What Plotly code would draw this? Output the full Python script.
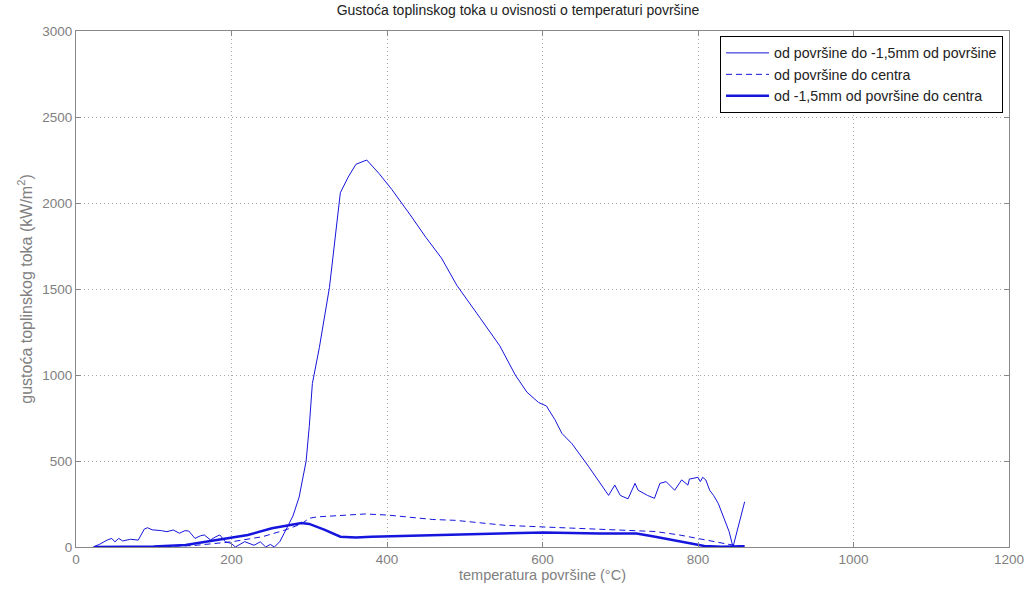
import plotly.graph_objects as go

# Series 1: od površine do -1,5mm od površine (thin solid)
x_thin = [22, 30, 40, 46, 50, 55, 60, 70, 80, 88, 92, 98, 110, 117, 125, 133, 140, 145, 153, 160,
          165, 173, 180, 185, 192, 200, 205, 212, 217, 229, 237, 244, 250, 255, 262, 270, 279, 287,
          296, 300, 304, 313, 326, 340, 350, 360, 374, 390, 406, 430, 450, 470, 490, 520, 545,
          565, 580, 595, 605, 616, 625, 638, 659, 685, 693, 700, 710, 719, 723, 735, 744, 751,
          759, 770, 779, 787, 789, 800, 803, 806, 810, 815, 820, 826, 834, 840, 845, 852, 860]
y_thin = [0, 15, 40, 50, 30, 50, 35, 45, 40, 105, 112, 100, 95, 89, 99, 80, 95, 93, 50, 65,
          70, 41, 60, 70, 31, 20, 0, 20, 31, 10, 30, 0, 15, 0, 30, 100, 180, 290,
          500, 700, 950, 1160, 1510, 2060, 2150, 2225, 2250, 2170, 2080, 1930, 1800, 1680, 1520, 1330, 1170,
          1000, 900, 840, 820, 740, 660, 600, 470, 300, 360, 300, 280, 370, 330, 300, 283, 370,
          380, 330, 390, 360, 395, 405, 380, 405, 390, 330, 300, 254, 157, 90, 0, 120, 263]

# Series 2: od površine do centra (dashed)
x_dash = [24, 100, 150, 200, 240, 270, 290, 300, 310, 340, 372, 400, 424, 459, 488, 538, 552,
          604, 663, 700, 745, 776, 808, 840, 856, 860]
y_dash = [0, 2, 8, 30, 60, 100, 135, 167, 175, 183, 192, 186, 174, 160, 155, 130, 126,
          116, 105, 95, 90, 70, 41, 15, 6, 5]

# Series 3: od -1,5mm od površine do centra (thick solid)
x_thick = [24, 100, 141, 181, 221, 252, 275, 290, 300, 320, 340, 360, 380, 459, 538, 602, 673,
           721, 745, 776, 808, 830, 860]
y_thick = [0, 3, 12, 41, 70, 109, 128, 140, 134, 100, 60, 55, 60, 70, 78, 85, 78,
           78, 60, 35, 6, 2, 5]

names = ["od površine do -1,5mm od površine", "od površine do centra",
         "od -1,5mm od površine do centra"]

blue = "#1515dd"
fig = go.Figure()
fig.add_trace(go.Scatter(x=x_thin, y=y_thin, mode="lines", name=names[0],
                         line=dict(color=blue, width=1)))
fig.add_trace(go.Scatter(x=x_dash, y=y_dash, mode="lines", name=names[1],
                         line=dict(color=blue, width=1, dash="6px,4px")))
fig.add_trace(go.Scatter(x=x_thick, y=y_thick, mode="lines", name=names[2],
                         line=dict(color=blue, width=2.5)))

FONT = "Liberation Sans, Arial, sans-serif"
axis_common = dict(showline=True, linecolor="#888888", linewidth=1, mirror="ticks",
                   ticks="inside", ticklen=5, tickcolor="#888888",
                   showgrid=True, gridcolor="#a8a8a8", griddash="1px,3px", gridwidth=1,
                   zeroline=False, tickfont=dict(color="#808080", size=13.5, family=FONT))

fig.update_layout(
    width=1036, height=594,
    margin=dict(l=76, r=24, t=31, b=47),
    paper_bgcolor="white", plot_bgcolor="white",
    font=dict(family=FONT, size=13, color="#222222"),
    title=dict(text="Gustoća toplinskog toka u ovisnosti o temperaturi površine",
               x=0.5, xanchor="center", y=0.992, yanchor="top",
               font=dict(size=14, color="#222222")),
    xaxis=dict(range=[0, 1200], dtick=200,
               title=dict(text="temperatura površine (°C)", standoff=3,
                          font=dict(color="#808080", size=14.5)),
               **axis_common),
    yaxis=dict(range=[0, 3000], dtick=500,
               title=dict(text="gustoća toplinskog toka (kW/m<sup>2</sup>)", standoff=5,
                          font=dict(color="#808080", size=16)),
               **axis_common),
    legend=dict(x=0.9936, y=0.99, xanchor="right", yanchor="top",
                bgcolor="white", bordercolor="black", borderwidth=1, itemwidth=43,
                font=dict(size=14.2, color="#222222"), tracegroupgap=0),
    showlegend=True,
)

fig.write_html("out.html", config={"displayModeBar": False},
               post_script="document.body.style.margin='0px';document.body.style.overflow='hidden';")
